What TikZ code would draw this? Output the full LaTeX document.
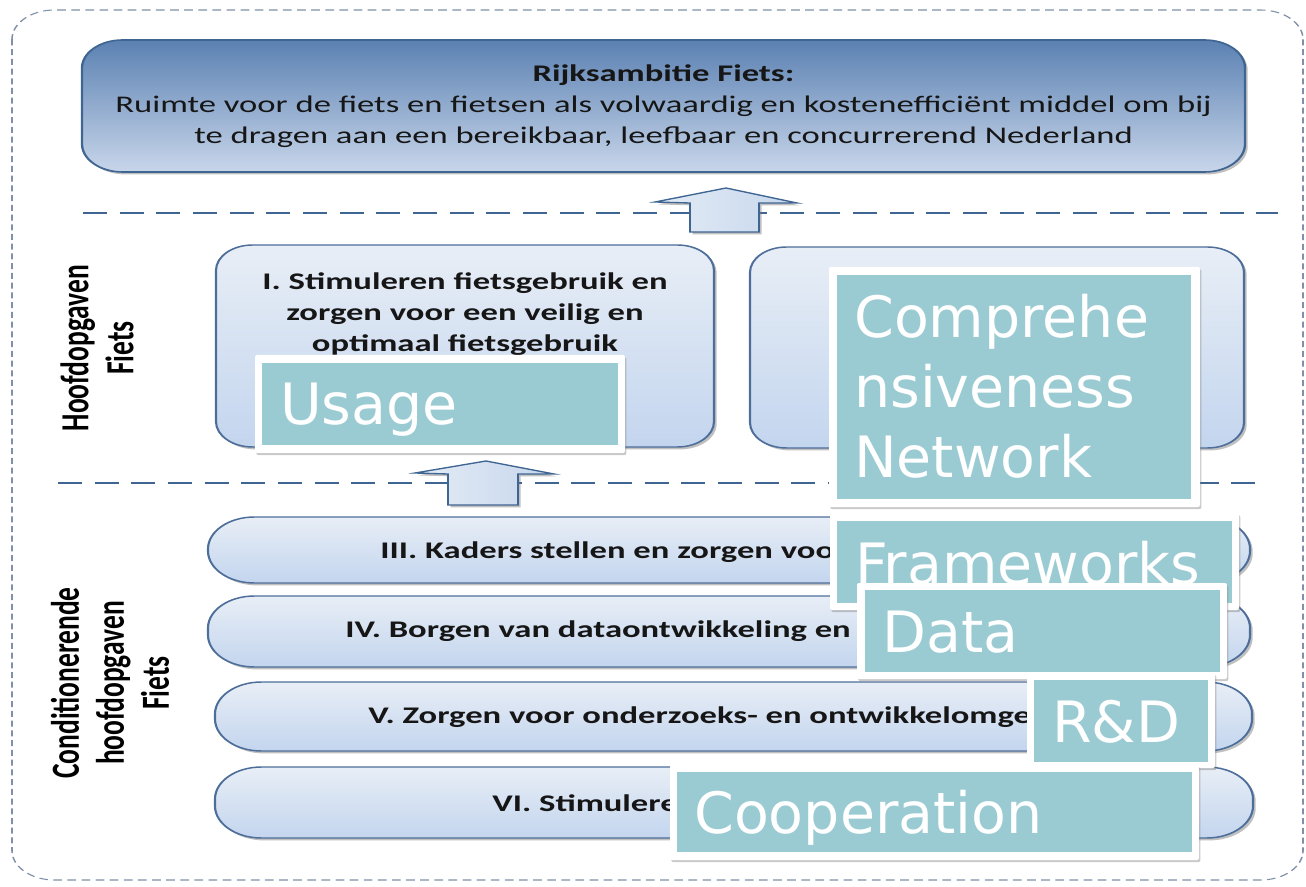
\documentclass[tikz,border=0pt]{standalone}
\usepackage{fontspec}
\setmainfont{Carlito}
\newfontfamily\tagfont{DejaVu Sans}
\usetikzlibrary{shadows}

\definecolor{deepblue}{HTML}{3F6592}
\definecolor{edgeblue}{HTML}{4E6E9A}
\definecolor{ambtop}{HTML}{5B81B2}
\definecolor{ambbot}{HTML}{C8D6EA}
\definecolor{paneltop}{HTML}{E8EEF6}
\definecolor{panelbot}{HTML}{C3D5EE}
\definecolor{arrowleft}{HTML}{E4ECF6}
\definecolor{arrowright}{HTML}{C6D6EC}
\definecolor{framegray}{HTML}{8090A8}
\definecolor{tagteal}{HTML}{9ACBD2}
\definecolor{inkdark}{HTML}{161616}

\tikzset{
  softshadow/.style={drop shadow={shadow xshift=1.4pt, shadow yshift=-1.8pt, opacity=0.45, fill=black!55}},
  frameline/.style={draw=framegray, line width=0.8pt, dash pattern=on 4.5pt off 2.8pt},
  tierline/.style={draw=deepblue, line width=2.2pt, dash pattern=on 18pt off 9.5pt},
  ambition/.style={draw=deepblue, line width=1.2pt, top color=ambtop, bottom color=ambbot, rounded corners=21pt, softshadow},
  panel/.style={draw=edgeblue, line width=1.1pt, top color=paneltop, bottom color=panelbot, rounded corners=19pt, softshadow},
  bar/.style={draw=edgeblue, line width=1.1pt, top color=paneltop, bottom color=panelbot, rounded corners=24pt, softshadow},
  blockarrow/.style={draw=deepblue, line width=1pt, left color=arrowleft, right color=arrowright, softshadow},
  difftext/.style={inner sep=0pt, text=inkdark, font=\fontsize{17.9}{23.25}\selectfont},
  paneltext/.style={difftext, align=center, font=\bfseries\fontsize{17.9}{23.25}\selectfont},
  bartext/.style={difftext, anchor=west, font=\bfseries\fontsize{17.9}{23.25}\selectfont},
  sidelabel/.style={inner sep=0pt, text=black, rotate=90, align=center, font=\bfseries\fontsize{20.6}{23.3}\selectfont},
  tagframe/.style={fill=white, rounded corners=1.5pt, drop shadow={shadow xshift=1pt, shadow yshift=-1.6pt, opacity=0.35, fill=black!60}},
  tagfill/.style={fill=tagteal},
  tagtext/.style={inner sep=0pt, anchor=base west, text=white, font=\tagfont\fontsize{42.75}{52.5}\selectfont}
}

\begin{document}
\begin{tikzpicture}[x=0.75pt, y=-0.75pt]
\useasboundingbox (0,0) rectangle (1306,887);

% dashed separators between the tiers
\draw[tierline] (83,213) -- (1278,213);
\draw[tierline] (58,483) -- (1256,483);

% the scheme itself, set slightly wide
\begin{scope}[x=0.517241pt, transform canvas={xscale=1.45}]
  % outer dashed frame
  \draw[frameline, rounded corners=22pt] (12,10) rectangle (1303,880);

  % national ambition
  \path[ambition] (82,40) rectangle (1245,172);
  \node[difftext, align=center] (ambition) at (663.5,106)
    {\textbf{Rijksambitie Fiets:}\\
     Ruimte voor de fiets en fietsen als volwaardig en kostenefficiënt middel om bij\\
     te dragen aan een bereikbaar, leefbaar en concurrerend Nederland};

  % arrow towards the ambition
  \path[blockarrow] (726,188) -- (797,203) -- (759,203) -- (759,232) -- (690,232)
    -- (690,203) -- (655,202) -- cycle;

  % main tasks
  \path[panel] (216,245) rectangle (714,447);
  \path[panel] (750,247) rectangle (1244,448);
  \node[paneltext] (taskone) at (465,314)
    {I. Stimuleren fietsgebruik en\\zorgen voor een veilig en\\optimaal fietsgebruik};

  % arrow towards the main tasks
  \path[blockarrow] (486,461) -- (554,474) -- (518,474) -- (518,505) -- (448,505)
    -- (448,474) -- (415,473) -- cycle;

  % conditioning tasks
  \path[bar] (208,517) rectangle (1250,583);
  \path[bar] (208,596) rectangle (1250,667);
  \path[bar] (215,682) rectangle (1252,751);
  \path[bar] (215,767) rectangle (1253,838);
  \node[bartext] (taskthree) at (380,552) {III. Kaders stellen en zorgen voor};
  \node[bartext] (taskfour) at (345,631) {IV. Borgen van dataontwikkeling en};
  \node[bartext] (taskfive) at (368,717) {V. Zorgen voor onderzoeks- en ontwikkelomgeving};
  \node[bartext] (tasksix) at (492,803) {VI. Stimuleren};

  % tier labels
  \node[sidelabel] (mainlabel) at (97,348) {Hoofdopgaven\\Fiets};
  \node[sidelabel] (condlabel) at (110,683) {Conditionerende\\hoofdopgaven\\Fiets};
\end{scope}

% keyword tags
\path[tagframe] (255,355) rectangle (625,453);
\path[tagfill] (262,363) rectangle (618,445);
\node[tagtext] (usage) at (280,425) {Usage};

\path[tagframe] (829,267) rectangle (1200,507);
\path[tagfill] (837,275) rectangle (1191,499);
\node[tagtext] (compa) at (854,338) {Comprehe};
\node[tagtext] (compb) at (854,408) {nsiveness};
\node[tagtext] (compc) at (854,478) {Network};

\path[tagframe] (830,513) rectangle (1239,610);
\path[tagfill] (837,521) rectangle (1232,603);
\node[tagtext] (frameworks) at (855,584) {Frameworks};

\path[tagframe] (857,583) rectangle (1227,679);
\path[tagfill] (865,590) rectangle (1220,672);
\node[tagtext] (data) at (882,652) {Data};

\path[tagframe] (1027,673) rectangle (1215,768);
\path[tagfill] (1034,680) rectangle (1208,762);
\node[tagtext] (rnd) at (1052,742) {R\&D};

\path[tagframe] (670,765) rectangle (1199,860);
\path[tagfill] (677,772) rectangle (1192,852);
\node[tagtext] (cooperation) at (694,833) {Cooperation};
\end{tikzpicture}
\end{document}
